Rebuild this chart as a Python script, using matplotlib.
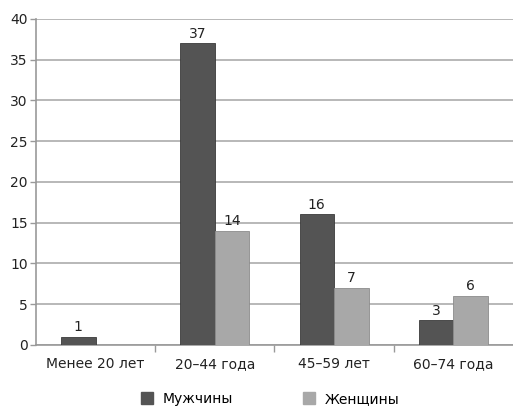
import matplotlib
matplotlib.use("Agg")
import matplotlib.pyplot as plt
from matplotlib.patches import Patch
import numpy as np

categories = ["Менее 20 лет", "20\u201344 года", "45\u201359 лет", "60\u201374 года"]
men = [1, 37, 16, 3]
women = [0, 14, 7, 6]
series_names = ["Мужчины", "Женщины"]
y_ticks = [0, 5, 10, 15, 20, 25, 30, 35, 40]

plt.rcParams["font.family"] = ["DejaVu Sans"]
plt.rcParams["font.size"] = 10

men_color = "#545454"
women_color = "#a8a8a8"
edge_color = "#3a3a3a"
text_color = "#222222"

fig = plt.figure(figsize=(5.13, 4.09), dpi=100)
ax = fig.add_axes([0.070, 0.157, 0.930, 0.797])

x = np.arange(len(categories))
w = 0.29

bars_m = ax.bar(x - w / 2, men, width=w, color=men_color, edgecolor=edge_color,
                linewidth=0.6, zorder=3)
bars_w = ax.bar(x + w / 2, women, width=w, color=women_color, edgecolor="#8c8c8c",
                linewidth=0.6, zorder=3)

for rect, v in zip(bars_m, men):
    if v > 0:
        ax.text(rect.get_x() + rect.get_width() / 2, v + 0.3, str(v),
                ha="center", va="bottom", fontsize=10, color=text_color)
for rect, v in zip(bars_w, women):
    if v > 0:
        ax.text(rect.get_x() + rect.get_width() / 2, v + 0.3, str(v),
                ha="center", va="bottom", fontsize=10, color=text_color)

ax.set_xlim(-0.5, len(categories) - 0.5)
ax.set_ylim(0, 40)
ax.set_yticks(y_ticks)
ax.yaxis.grid(True, color="#b8b8b8", linewidth=1.4, zorder=0)
ax.set_axisbelow(True)

# category labels centred under each group, tick marks between groups
ax.set_xticks(x)
ax.set_xticklabels(categories, fontsize=10, color=text_color)
ax.tick_params(axis="x", which="major", length=0, pad=9)
ax.set_xticks(np.arange(0.5, len(categories) - 0.5, 1.0), minor=True)
ax.tick_params(axis="x", which="minor", length=5, width=1.0, color="#999999")
ax.tick_params(axis="y", length=4, width=1.0, color="#999999", labelsize=10,
               labelcolor=text_color, pad=2)

for side in ("top", "right"):
    ax.spines[side].set_visible(False)
ax.spines["left"].set_color("#999999")
ax.spines["left"].set_linewidth(1.2)
ax.spines["bottom"].set_color("#999999")
ax.spines["bottom"].set_linewidth(1.2)

handles = [Patch(facecolor=men_color, edgecolor=men_color),
           Patch(facecolor=women_color, edgecolor=women_color)]
fig.legend(handles, series_names, loc="center", bbox_to_anchor=(0.527, 0.025),
           ncol=2, frameon=False, fontsize=10, handlelength=0.85, handleheight=0.85,
           columnspacing=5.0, handletextpad=0.75)

fig.savefig("out.png", dpi=100)
